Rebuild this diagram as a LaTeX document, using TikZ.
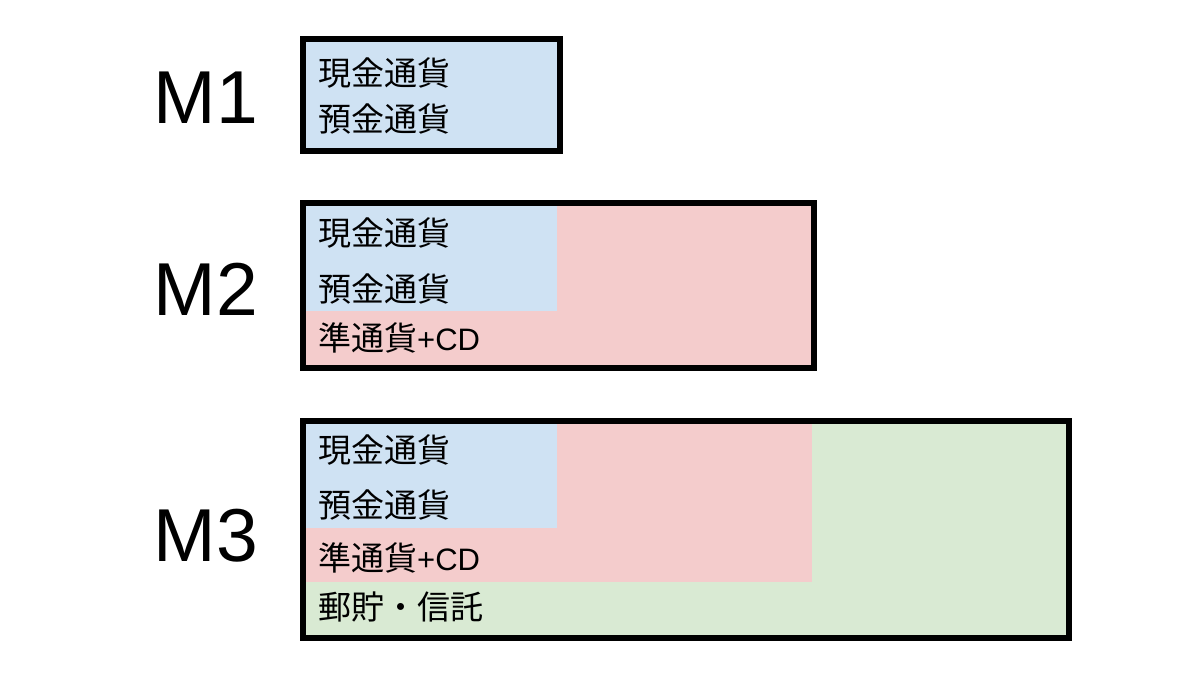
\documentclass[tikz,border=0pt]{standalone}
\usepackage{fontspec}
\setmainfont{Liberation Sans}
\newfontfamily\cjk{Noto Sans CJK JP}
\newfontfamily\lat{Liberation Sans}
\definecolor{mblue}{HTML}{CFE2F3}
\definecolor{mpink}{HTML}{F4CCCC}
\definecolor{mgreen}{HTML}{D9EAD3}
\tikzset{
  frame/.style={draw=black,line width=6bp},
  item/.style={anchor=west,inner sep=0pt,font=\cjk\fontsize{33bp}{35bp}\selectfont},
  mlabel/.style={inner sep=0pt,font=\fontsize{75bp}{77bp}\selectfont}
}
\begin{document}
\begin{tikzpicture}[x=1bp,y=-1bp]
\useasboundingbox (0,0) rectangle (1200,675);
% M1
\fill[mblue] (303,39) rectangle (560,151);
\draw[frame] (303,39) rectangle (560,151);
\node[mlabel] (m1) at (206,98) {M1};
\node[item] (m1a) at (318,73) {現金通貨};
\node[item] (m1b) at (318,119) {預金通貨};
% M2
\fill[mpink] (303,203) rectangle (814,368);
\fill[mblue] (303,203) rectangle (557,311);
\draw[frame] (303,203) rectangle (814,368);
\node[mlabel] (m2) at (206,289) {M2};
\node[item] (m2a) at (318,233) {現金通貨};
\node[item] (m2b) at (318,289) {預金通貨};
\node[item] (m2c) at (318,338) {準通貨{\lat\fontsize{31bp}{33bp}\selectfont +CD}};
% M3
\fill[mgreen] (303,421) rectangle (1069,638);
\fill[mpink] (303,421) rectangle (812,582);
\fill[mblue] (303,421) rectangle (557,528);
\draw[frame] (303,421) rectangle (1069,638);
\node[mlabel] (m3) at (206,536) {M3};
\node[item] (m3a) at (318,450) {現金通貨};
\node[item] (m3b) at (318,505) {預金通貨};
\node[item] (m3c) at (318,558) {準通貨{\lat\fontsize{31bp}{33bp}\selectfont +CD}};
\node[item] (m3d) at (318,607) {郵貯・信託};
\end{tikzpicture}
\end{document}
